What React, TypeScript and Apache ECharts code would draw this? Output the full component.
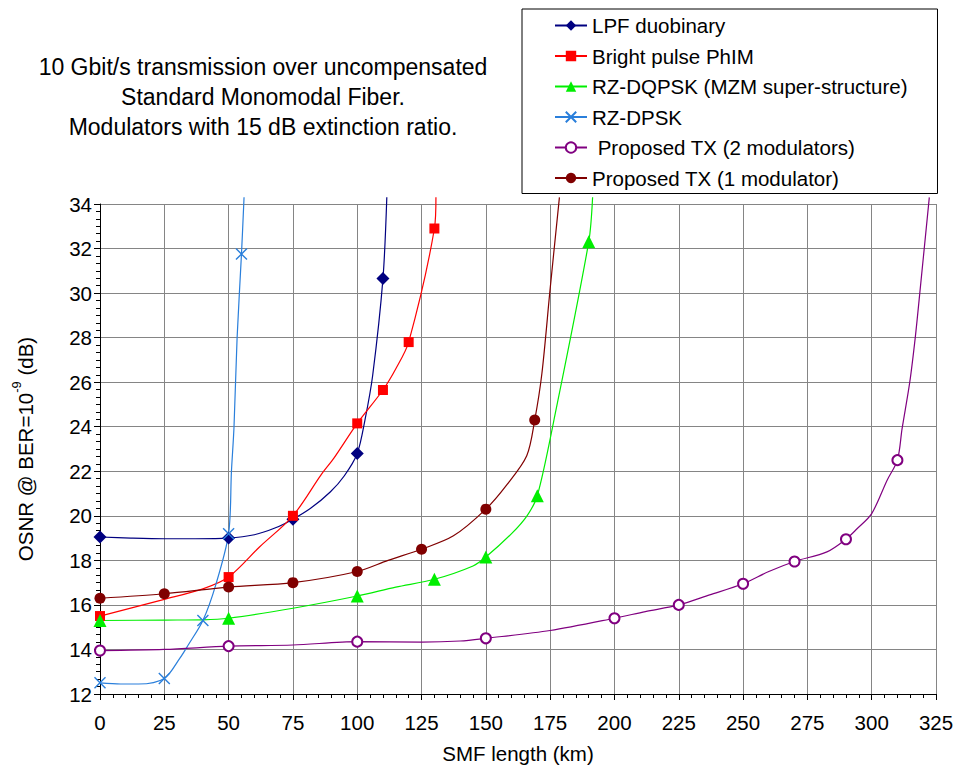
import React, { useEffect, useRef } from "react";
import * as echarts from "echarts";

// ---- data (km, dB) ----
const titleLines = [
  "10 Gbit/s transmission over uncompensated",
  "Standard Monomodal Fiber.",
  "Modulators with 15 dB extinction ratio.",
];
const xTicks = [0, 325, 25];
const yTicks = [12, 34, 2];

const seriesNames = [
  "LPF duobinary",
  "Bright pulse PhIM",
  "RZ-DQPSK (MZM super-structure)",
  "RZ-DPSK",
  " Proposed TX (2 modulators)",
  "Proposed TX (1 modulator)",
];

// measured points (markers)
const lpfMarkX = [0, 50, 75, 100, 110];
const lpfMarkY = [19.05, 19.0, 19.85, 22.8, 30.65];
const phimMarkX = [0, 50, 75, 100, 110, 120, 130];
const phimMarkY = [15.5, 17.25, 20.0, 24.15, 25.65, 27.8, 32.9];
const dqpskMarkX = [0, 50, 100, 130, 150, 170, 190];
const dqpskMarkY = [15.3, 15.4, 16.4, 17.15, 18.15, 20.9, 32.3];
const dpskMarkX = [0, 25, 40, 50, 55];
const dpskMarkY = [12.5, 12.7, 15.3, 19.2, 31.75];
const tx2MarkX = [0, 50, 100, 150, 200, 225, 250, 270, 290, 310];
const tx2MarkY = [13.95, 14.15, 14.35, 14.5, 15.4, 16.0, 16.95, 17.95, 18.95, 22.5];
const tx1MarkX = [0, 25, 50, 75, 100, 125, 150, 169];
const tx1MarkY = [16.3, 16.5, 16.8, 17.0, 17.5, 18.5, 20.3, 24.3];

// extra points (no marker)
const lpfCurveX = [12, 25, 37, 60, 68, 82, 89.5, 95, 103, 106, 111.5];
const lpfCurveY = [19.0, 18.97, 18.97, 19.15, 19.45, 20.35, 21.07, 21.8, 24.3, 26.3, 34.3];
const phimCurveX = [25, 40, 62, 86, 91, 115, 130.6];
const phimCurveY = [16.25, 16.72, 18.6, 21.85, 22.6, 26.6, 34.3];
const dqpskCurveX = [25, 40, 75, 115, 145, 160, 166, 176.3, 191.5];
const dqpskCurveY = [15.32, 15.33, 15.85, 16.8, 17.75, 19.2, 20.0, 24.2, 34.3];
const dpskCurveX = [8, 15, 31, 34.3, 45, 51.1, 52.1, 53.3, 56];
const dpskCurveY = [12.45, 12.45, 13.6, 14.2, 16.9, 22.0, 24.0, 28.0, 34.3];
const tx2CurveX = [25, 75, 125, 140, 175, 212, 237, 260, 282.6, 294.3, 300, 306, 311.8, 314.8, 317, 318.7, 322.4];
const tx2CurveY = [14.0, 14.2, 14.33, 14.38, 14.85, 15.7, 16.45, 17.5, 18.38, 19.42, 20.1, 21.6, 23.9, 26.0, 28.07, 30.0, 34.3];
const tx1CurveX = [112, 137.4, 158.2, 165.9, 171.8, 175, 178.6];
const tx1CurveY = [18.0, 19.1, 21.4, 22.7, 26.4, 30.2, 34.3];

const FONT = "'Liberation Sans', Arial, sans-serif";

function buildData(mx: number[], my: number[], cx: number[], cy: number[]) {
  const pts: any[] = [];
  mx.forEach((x, i) => pts.push({ value: [x, my[i]] }));
  cx.forEach((x, i) => pts.push({ value: [x, cy[i]], symbol: "none" }));
  pts.sort((a, b) => a.value[0] - b.value[0]);
  return pts;
}

export default function App() {
  const ref = useRef<HTMLDivElement>(null);
  useEffect(() => {
    document.body.style.margin = "0";
    const chart = echarts.init(ref.current!, null, { renderer: "svg" });
    const mk = (
      name: string,
      color: string,
      symbol: string,
      size: number,
      data: any[],
      itemStyle: any
    ) => ({
      type: "line",
      name,
      data,
      smooth: 0.3,
      clip: false,
      symbol,
      symbolSize: size,
      showSymbol: true,
      color,
      lineStyle: { color, width: 1.2 },
      itemStyle,
      emphasis: { disabled: true },
      z: 3,
    });
    const option: any = {
      animation: false,
      backgroundColor: "#fff",
      textStyle: { fontFamily: FONT },
      grid: { left: 100, right: 21, top: 204, bottom: 73, containLabel: false },
      xAxis: {
        type: "value",
        min: xTicks[0],
        max: xTicks[1],
        interval: xTicks[2],
        name: "SMF length (km)",
        nameLocation: "middle",
        nameGap: 49,
        nameTextStyle: { fontSize: 20.5, color: "#000", fontFamily: FONT },
        axisLine: { show: true, onZero: false, lineStyle: { color: "#000", width: 1 } },
        axisTick: { show: true, length: 6, lineStyle: { color: "#000" } },
        minorTick: { show: true, splitNumber: 5, length: 4, lineStyle: { color: "#000" } },
        axisLabel: { fontSize: 20.5, color: "#000", margin: 18, fontFamily: FONT },
        splitLine: { show: true, lineStyle: { color: "#858585", width: 1 } },
      },
      yAxis: {
        type: "value",
        min: yTicks[0],
        max: yTicks[1],
        interval: yTicks[2],
        name: "{a|OSNR @ BER=10}{b|-9}{a| (dB)}",
        nameLocation: "middle",
        nameRotate: 90,
        nameGap: 64,
        nameTextStyle: {
          color: "#000",
          fontFamily: FONT,
          rich: {
            a: { fontSize: 20.5, color: "#000", fontFamily: FONT, lineHeight: 26, verticalAlign: "bottom" },
            b: { fontSize: 13, color: "#000", fontFamily: FONT, lineHeight: 26, verticalAlign: "top" },
          },
        },
        axisLine: { show: true, onZero: false, lineStyle: { color: "#000", width: 1 } },
        axisTick: { show: true, length: 6, lineStyle: { color: "#000" } },
        minorTick: { show: true, splitNumber: 6, length: 4, lineStyle: { color: "#000" } },
        axisLabel: { fontSize: 20.5, color: "#000", margin: 8, fontFamily: FONT },
        splitLine: { show: true, lineStyle: { color: "#858585", width: 1 } },
      },
      legend: {
        orient: "vertical",
        left: 522,
        top: 9,
        padding: [6, 30, 5, 32],
        itemWidth: 32,
        itemHeight: 13,
        itemGap: 9.5,
        borderColor: "#000",
        borderWidth: 1,
        backgroundColor: "#fff",
        data: seriesNames,
        textStyle: { fontSize: 20.5, color: "#000", fontFamily: FONT, lineHeight: 20 },
      },
      graphic: [
        {
          type: "text",
          x: 263,
          y: 97,
          style: {
            text: titleLines.join("\n"),
            font: `23px ${FONT}`,
            fill: "#000",
            textAlign: "center",
            textVerticalAlign: "middle",
            lineHeight: 30,
          },
        },
      ],
      series: [
        mk(seriesNames[0], "#000080", "diamond", 13, buildData(lpfMarkX, lpfMarkY, lpfCurveX, lpfCurveY), {
          color: "#000080",
          borderWidth: 0,
        }),
        mk(seriesNames[1], "#ff0000", "rect", 10, buildData(phimMarkX, phimMarkY, phimCurveX, phimCurveY), {
          color: "#ff0000",
          borderWidth: 0,
        }),
        mk(seriesNames[2], "#00ee00", "triangle", 13, buildData(dqpskMarkX, dqpskMarkY, dqpskCurveX, dqpskCurveY), {
          color: "#00ee00",
          borderWidth: 0,
        }),
        mk(
          seriesNames[3],
          "#2a7fdb",
          "path://M0,0L10,10M10,0L0,10",
          11,
          buildData(dpskMarkX, dpskMarkY, dpskCurveX, dpskCurveY),
          { color: "#2a7fdb", borderColor: "#2a7fdb", borderWidth: 1.4 }
        ),
        mk(seriesNames[4], "#800080", "emptyCircle", 10, buildData(tx2MarkX, tx2MarkY, tx2CurveX, tx2CurveY), {
          color: "#800080",
          borderColor: "#800080",
          borderWidth: 1.2,
        }),
        mk(seriesNames[5], "#800000", "circle", 11, buildData(tx1MarkX, tx1MarkY, tx1CurveX, tx1CurveY), {
          color: "#800000",
          borderWidth: 0,
        }),
      ],
    };
    chart.setOption(option);
    return () => chart.dispose();
  }, []);
  return <div ref={ref} style={{ width: 957, height: 769 }} />;
}
